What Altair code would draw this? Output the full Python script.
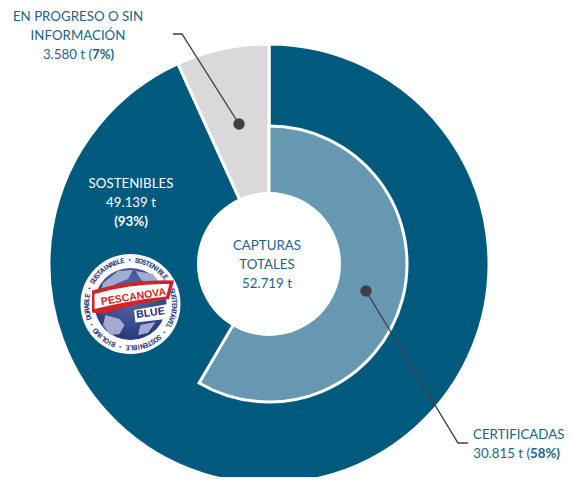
import math
import altair as alt
import pandas as pd

W, H = 556, 469
DARK, LIGHT, GREY = "#005A7D", "#6699B1", "#D9D9D9"
TXT, LEAD = "#1C6484", "#404040"
FONT = "Lato"

# data values
total = 52719
certified = 30815
sustainable = 49139
in_progress = 3580
cx, cy = 269, 264

# text lines: text, x, y, align, bold, colour
labels = [
    ("EN PROGRESO O SIN", 78, 17, "center", False, TXT),
    ("INFORMACIÓN", 78, 36, "center", False, TXT),
    ("3.580 t (", 92, 55, "right", False, TXT),
    ("7%)", 92, 55, "left", True, TXT),
    ("SOSTENIBLES", 131, 184, "center", False, "white"),
    ("49.139 t", 131, 203, "center", False, "white"),
    ("(93%)", 131, 222, "center", True, "white"),
    ("CAPTURAS", 267, 246, "center", False, TXT),
    ("TOTALES", 267, 265, "center", False, TXT),
    ("52.719 t", 267, 284, "center", False, TXT),
    ("CERTIFICADAS", 473, 435, "left", False, TXT),
    ("30.815 t (", 530, 454, "right", False, TXT),
    ("58%)", 530, 454, "left", True, TXT),
]
leader_a_x, leader_a_y = [173, 182, 239], [34, 34, 124]
leader_b_x, leader_b_y = [468, 458, 366], [443, 443, 291]
dots_x, dots_y = [239, 366], [124, 291]

# logo
logo_x, logo_y, logo_r = 130.5, 304, 50
ring_text = "SUSTAINABLE • SOSTENIBLE • SUSTENTÁVEL • SOSTENIBLE • BIOLIMO • DURABLE • "
land_paths = [
    "M-0.55,-0.42 L-0.25,-0.66 L0.05,-0.68 L-0.05,-0.5 L-0.3,-0.4 L-0.42,-0.22 L-0.6,-0.25 Z",
    "M0.1,-0.66 L0.45,-0.6 L0.62,-0.36 L0.35,-0.38 L0.2,-0.5 Z",
    "M-0.5,0.22 L-0.22,0.3 L-0.12,0.42 L-0.22,0.6 L-0.4,0.62 L-0.55,0.42 Z",
    "M0.2,0.42 L0.5,0.36 L0.35,0.58 L0.15,0.62 Z",
]
ribbon_path = "M-0.77,-0.27 Q0.05,-0.5 0.87,-0.47 L0.77,-0.1 Q0.1,-0.02 -0.55,0.2 L-0.77,0.17 Z"
banner_path = "M-0.72,-0.2 Q0.05,-0.42 0.78,-0.4 L0.71,-0.15 Q0,-0.08 -0.72,0.1 Z"
blue_box_path = "M0.07,0.12 L0.75,0 L0.71,0.3 L0.1,0.37 Z"

xs = alt.Scale(domain=[8, 8 + W], range=[0, W])
ys = alt.Scale(domain=[8, 8 + H], range=[0, H])
X = lambda f="x": alt.X(f"{f}:Q", scale=xs, axis=None)
Y = lambda f="y": alt.Y(f"{f}:Q", scale=ys, axis=None)
ths = alt.Scale(domain=[0, total], range=[0, 2 * math.pi])


def arc(start, end, color, r, r2=0, sw=3.0):
    d = alt.Data(values=[{"x": cx, "y": cy, "a": start, "b": end}])
    return alt.Chart(d).mark_arc(
        color=color, radius=r, radius2=r2, stroke="white", strokeWidth=sw
    ).encode(x=X(), y=Y(),
             theta=alt.Theta("a:Q", scale=ths, stack=False),
             theta2="b:Q")


layers = [
    arc(0, sustainable, DARK, 220),
    arc(sustainable, total, GREY, 220),
    arc(0, certified, LIGHT, 138),
    arc(0, total, "white", 72, 0, 0),
]


def shape(path, size, color):
    d = alt.Data(values=[{"x": logo_x, "y": logo_y}])
    kw = dict(shape=path, size=size, filled=True, opacity=1, strokeWidth=0)
    return alt.Chart(d).mark_point(color=color, **kw).encode(x=X(), y=Y())


def logo_text(txt, dx, dy, size, color, angle):
    d = alt.Data(values=[{"x": logo_x + dx, "y": logo_y + dy, "t": txt}])
    return alt.Chart(d).mark_text(
        font="Liberation Sans", fontWeight="bold", fontSize=size,
        color=color, angle=angle, align="center", baseline="middle"
    ).encode(x=X(), y=Y(), text="t:N")


globe = alt.Gradient(
    gradient="radial", x1=0.5, y1=0.35, x2=0.5, y2=0.35, r1=0, r2=0.75,
    stops=[alt.GradientStop(color="#5C6FA8", offset=0),
           alt.GradientStop(color="#1F2F78", offset=1)],
)
unit = (2 * logo_r) ** 2
layers += [
    shape("circle", unit, "white"),
    alt.Chart(alt.Data(values=[{"x": logo_x, "y": logo_y}])).mark_point(
        shape="circle", size=(2 * 36) ** 2, filled=True, opacity=1, fill=globe, strokeWidth=0
    ).encode(x=X(), y=Y()),
]
layers += [shape(p, unit, "#A3ACCF") for p in land_paths]
layers += [
    shape(ribbon_path, unit, "#D2232A"),
    shape(banner_path, unit, "white"),
    shape(blue_box_path, unit, "white"),
    logo_text("PESCANOVA", 3, -7, 10.5, "#D2232A", 351),
    logo_text("BLUE", 20, 9, 10.5, "#1F2F78", 352),
]
ring_rows = []
n = len(ring_text)
for i, ch in enumerate(ring_text):
    a = (i + 0.5) / n * 360 - 62
    ring_rows.append({
        "x": logo_x + 43.5 * math.sin(math.radians(a)),
        "y": logo_y - 43.5 * math.cos(math.radians(a)),
        "t": ch, "a": a % 360,
    })
layers.append(
    alt.Chart(alt.Data(values=ring_rows)).mark_text(
        font="Roboto", fontWeight="bold", fontSize=7, color="#2A3A80",
        align="center", baseline="middle"
    ).encode(x=X(), y=Y(), text="t:N", angle=alt.Angle("a:Q", scale=None))
)

# leaders
for lx, ly in ((leader_a_x, leader_a_y), (leader_b_x, leader_b_y)):
    d = pd.DataFrame({"x": lx, "y": ly, "o": range(len(lx))})
    layers.append(
        alt.Chart(d).mark_line(color=LEAD, strokeWidth=1.4).encode(x=X(), y=Y(), order="o:Q")
    )
layers.append(
    alt.Chart(pd.DataFrame({"x": dots_x, "y": dots_y})).mark_point(
        shape="circle", size=130, filled=True, opacity=1, color=LEAD
    ).encode(x=X(), y=Y())
)

# labels
for align in ("left", "center", "right"):
    for bold in (False, True):
        for col in (TXT, "white"):
            rows = [{"t": t, "x": x, "y": y} for t, x, y, a, b, c in labels
                    if a == align and b == bold and c == col]
            if not rows:
                continue
            layers.append(
                alt.Chart(alt.Data(values=rows)).mark_text(
                    font=FONT, fontSize=13.3, color=col, align=align, baseline="middle",
                    fontWeight="bold" if bold else "normal"
                ).encode(x=X(), y=Y(), text="t:N")
            )

chart = alt.layer(*layers).properties(
    width=W, height=H, padding=0, background="white",
    autosize=alt.AutoSizeParams(type="none", contains="padding"),
).configure_view(stroke=None)

chart.save("out.html", embed_options={"renderer": "svg", "actions": False})
